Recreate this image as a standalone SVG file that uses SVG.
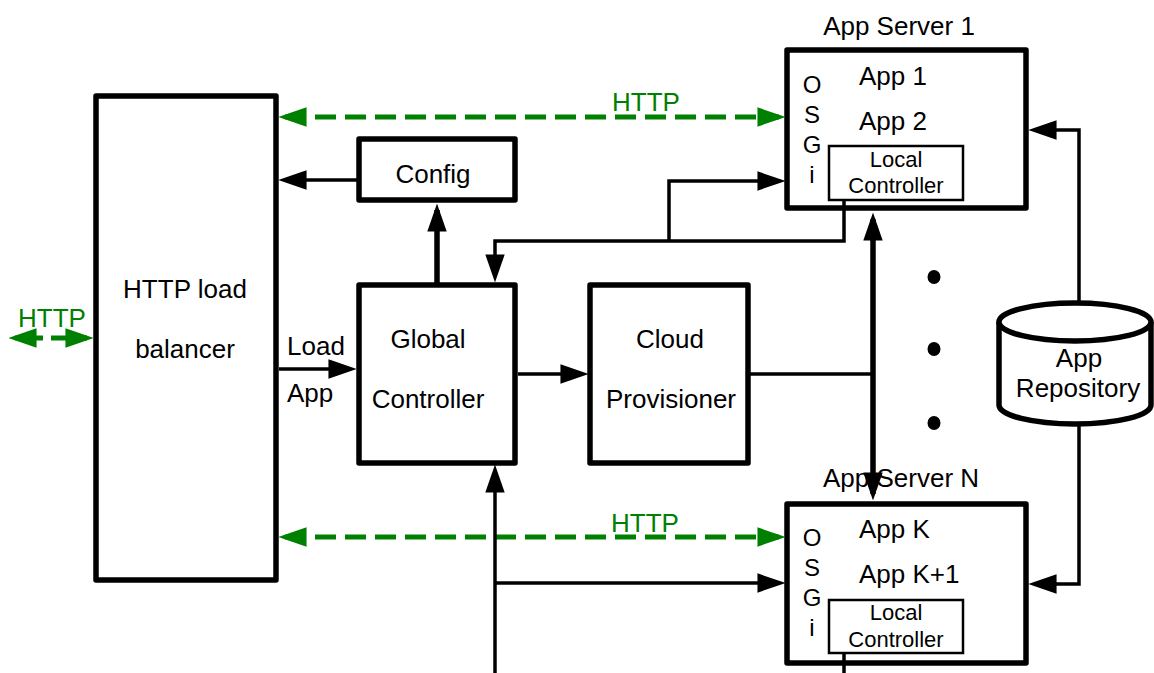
<svg xmlns="http://www.w3.org/2000/svg" width="1154" height="673" viewBox="0 0 1154 673">
<style>
.box{fill:#fff;stroke:#000;stroke-width:5.5;stroke-linejoin:round}
.small{fill:#fff;stroke:#000;stroke-width:2.5}
.t{font-family:"Liberation Sans",Arial,sans-serif;font-size:26px;fill:#000}
.m{text-anchor:middle}
.lc{font-size:22px}
.os{font-size:24px}
.g{fill:#008000}
.c{fill:none;stroke:#000;stroke-width:3.5}
.ck{fill:none;stroke:#000;stroke-width:5.5}
.h{fill:none;stroke:#008000;stroke-width:5;stroke-dasharray:21 9}
</style>
<defs>
<marker id="a" markerUnits="userSpaceOnUse" markerWidth="28" markerHeight="20" viewBox="0 0 26 18" refX="20" refY="9" orient="auto-start-reverse">
<path d="M0,0 L26,9 L0,18 z" fill="#000"/>
</marker>
<marker id="ag" markerUnits="userSpaceOnUse" markerWidth="28" markerHeight="20" viewBox="0 0 26 18" refX="20" refY="9" orient="auto-start-reverse">
<path d="M0,0 L26,9 L0,18 z" fill="#008000"/>
</marker>
</defs>

<g id="lb">
<rect class="box" x="96" y="96" width="180" height="484"/>
<text class="t m" x="185" y="298">HTTP load</text>
<text class="t m" x="185" y="358">balancer</text>
</g>

<g id="config">
<rect class="box" x="359" y="139" width="156" height="61"/>
<text class="t m" x="433" y="183">Config</text>
</g>

<g id="gc">
<rect class="box" x="359" y="285" width="156" height="178"/>
<text class="t m" x="428" y="348">Global</text>
<text class="t m" x="428" y="408">Controller</text>
</g>

<g id="cp">
<rect class="box" x="590" y="285" width="158" height="178"/>
<text class="t m" x="670" y="348">Cloud</text>
<text class="t m" x="671" y="408">Provisioner</text>
</g>

<g id="as1">
<text class="t m" x="899" y="35">App Server 1</text>
<rect class="box" x="787" y="50" width="239" height="158"/>
<text class="t" x="859" y="85">App 1</text>
<text class="t" x="859" y="130">App 2</text>
<text class="t os m" x="812" y="93">O</text>
<text class="t os m" x="812" y="123">S</text>
<text class="t os m" x="812" y="153">G</text>
<text class="t os m" x="812" y="183">i</text>
<g id="lc1">
<rect class="small" x="829" y="146" width="134" height="54"/>
<text class="t lc m" x="896" y="167">Local</text>
<text class="t lc m" x="896" y="193">Controller</text>
</g>
</g>

<g id="asn">
<text class="t" x="823" y="487">App Server N</text>
<rect class="box" x="787" y="504" width="239" height="159"/>
<text class="t" x="859" y="538">App K</text>
<text class="t" x="859" y="583">App K+1</text>
<text class="t os m" x="812" y="546">O</text>
<text class="t os m" x="812" y="576">S</text>
<text class="t os m" x="812" y="606">G</text>
<text class="t os m" x="812" y="636">i</text>
<g id="lcn">
<rect class="small" x="829" y="600" width="134" height="53"/>
<text class="t lc m" x="896" y="620">Local</text>
<text class="t lc m" x="896" y="647">Controller</text>
</g>
</g>

<g id="dots">
<ellipse cx="934" cy="277" rx="6.5" ry="7"/>
<ellipse cx="934" cy="349" rx="6.5" ry="7"/>
<ellipse cx="934" cy="423" rx="6.5" ry="7"/>
</g>

<g id="repo">
<path d="M999,322 V405 A76,19 0 0 0 1151,405 V322" fill="#fff" stroke="#000" stroke-width="5.5"/>
<ellipse cx="1075" cy="322" rx="76" ry="19" fill="#fff" stroke="#000" stroke-width="5.5"/>
<text class="t m" x="1079" y="367">App</text>
<text class="t m" x="1078" y="397">Repository</text>
</g>

<g id="connectors">
<path class="h" d="M15,338 H87" style="stroke-dasharray:28 8 40" marker-start="url(#ag)" marker-end="url(#ag)"/>
<path class="h" d="M285,117 H779" marker-start="url(#ag)" marker-end="url(#ag)"/>
<path class="h" d="M285,537 H779" marker-start="url(#ag)" marker-end="url(#ag)"/>
<path class="c" d="M358,180 H285" marker-end="url(#a)"/>
<path class="ck" d="M437,285 V210" marker-end="url(#a)"/>
<path class="c" d="M844,200 V241 H495 V276" marker-end="url(#a)"/>
<path class="c" d="M669,241 V181 H779" marker-end="url(#a)"/>
<path class="c" d="M279,369 H350" marker-end="url(#a)"/>
<path class="c" d="M518,374 H582" marker-end="url(#a)"/>
<path class="c" d="M750,374 H873"/>
<path class="ck" d="M873,374 V219" marker-end="url(#a)"/>
<path class="ck" d="M873,374 V494" marker-end="url(#a)"/>
<path class="c" d="M495,673 V471" marker-end="url(#a)"/>
<path class="c" d="M495,583 H779" marker-end="url(#a)"/>
<path class="c" d="M1079,303 V130 H1035" marker-end="url(#a)"/>
<path class="c" d="M1079,424 V584 H1035" marker-end="url(#a)"/>
<path class="c" d="M844,653 V673"/>
</g>

<text class="t g m" x="52" y="327">HTTP</text>
<text class="t g m" x="646" y="111">HTTP</text>
<text class="t g m" x="645" y="532">HTTP</text>
<text class="t" x="287" y="355">Load</text>
<text class="t" x="287" y="402">App</text>
</svg>
